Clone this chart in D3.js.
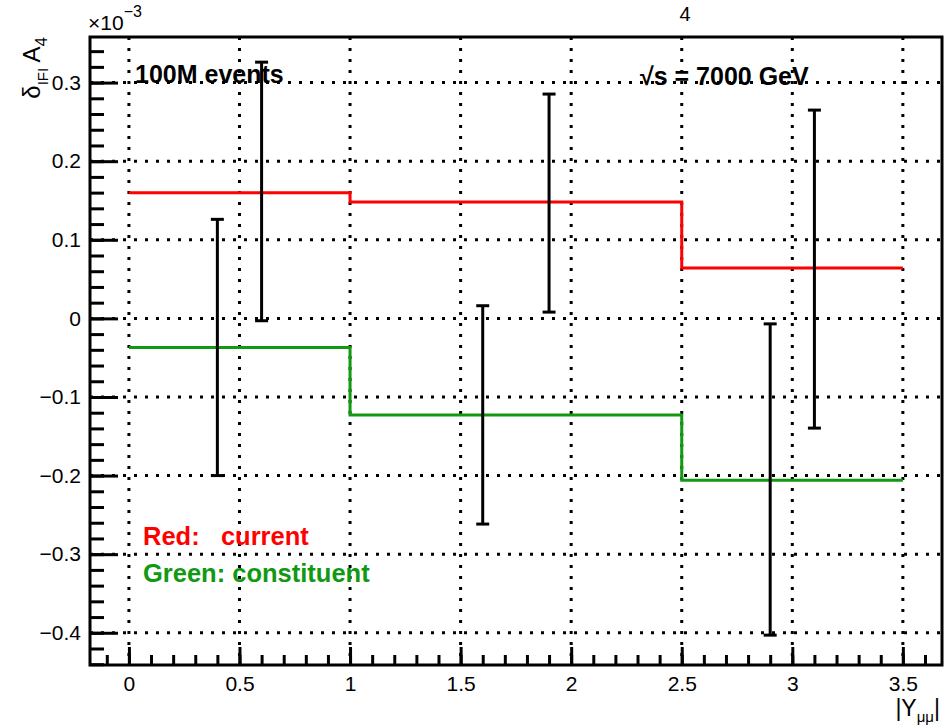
<!DOCTYPE html>
<html>
<head>
<meta charset="utf-8">
<script src="https://cdn.jsdelivr.net/npm/d3@7"></script>
<style>
  body { margin: 0; background: #fff; }
  svg { display: block; font-family: "Liberation Sans", Arial, Helvetica, sans-serif; }
</style>
</head>
<body>
<div id="chart"></div>
<script>
// histogram bins (|Y_mumu|) and the two step curves, in units of 1e-3
const binEdges = [0, 1, 2.5, 3.5];
const redValues = [0.160, 0.148, 0.064];
const greenValues = [-0.037, -0.123, -0.206];

// error bars: position, centre, half length
const errX = [0.4, 0.6, 1.6, 1.9, 2.9, 3.1];
const errY = [-0.037, 0.1615, -0.1228, 0.1467, -0.205, 0.0627];
const errHalf = [0.163, 0.1645, 0.1389, 0.1387, 0.198, 0.2023];

const xTicks = [0, 0.5, 1, 1.5, 2, 2.5, 3, 3.5];
const yTicks = [-0.4, -0.3, -0.2, -0.1, 0, 0.1, 0.2, 0.3];

const width = 950, height = 727;
const frame = { left: 90, right: 942, top: 37, bottom: 665 };

const x = d3.scaleLinear().domain([-0.176, 3.677]).range([frame.left, frame.right]);
const y = d3.scaleLinear().domain([-0.441, 0.358]).range([frame.bottom, frame.top]);

const svg = d3.select("#chart").append("svg")
  .attr("width", width)
  .attr("height", height);

// dotted grid
const grid = svg.append("g")
  .attr("stroke", "#000")
  .attr("stroke-width", 3)
  .attr("stroke-dasharray", "3,8");

grid.selectAll(".gx").data(xTicks).join("line")
  .attr("x1", d => x(d)).attr("x2", d => x(d))
  .attr("y1", frame.top).attr("y2", frame.bottom);

grid.selectAll(".gy").data(yTicks).join("line")
  .attr("x1", frame.left).attr("x2", frame.right)
  .attr("y1", d => y(d)).attr("y2", d => y(d));

// step histograms
function steps(values) {
  const pts = [];
  values.forEach((v, i) => {
    pts.push([binEdges[i], v]);
    pts.push([binEdges[i + 1], v]);
  });
  return pts;
}
const line = d3.line().x(d => x(d[0])).y(d => y(d[1]));

svg.append("path")
  .attr("d", line(steps(redValues)))
  .attr("fill", "none")
  .attr("stroke", "#ff0000")
  .attr("stroke-width", 3);

svg.append("path")
  .attr("d", line(steps(greenValues)))
  .attr("fill", "none")
  .attr("stroke", "#119911")
  .attr("stroke-width", 3);

// texts in the plot
svg.append("text")
  .attr("x", 135).attr("y", 83)
  .attr("font-size", 25).attr("font-weight", "bold")
  .text("100M events");

svg.append("text")
  .attr("x", 640).attr("y", 85)
  .attr("font-size", 25).attr("font-weight", "bold")
  .text("\u221As = 7000 GeV");

svg.append("text")
  .attr("x", 143).attr("y", 545)
  .attr("font-size", 25.5).attr("font-weight", "bold")
  .attr("fill", "#ff0000")
  .style("white-space", "pre")
  .text("Red:   current");

svg.append("text")
  .attr("x", 143).attr("y", 582)
  .attr("font-size", 25.5).attr("font-weight", "bold")
  .attr("fill", "#119911")
  .text("Green: constituent");

// error bars
const errData = errX.map((d, i) => ({ x: d, y: errY[i], h: errHalf[i] }));
const eb = svg.append("g").attr("stroke", "#000").attr("stroke-width", 3);
eb.selectAll(".v").data(errData).join("line")
  .attr("x1", d => x(d.x)).attr("x2", d => x(d.x))
  .attr("y1", d => y(d.y + d.h)).attr("y2", d => y(d.y - d.h));
eb.selectAll(".t").data(errData).join("line")
  .attr("x1", d => x(d.x) - 6.5).attr("x2", d => x(d.x) + 6.5)
  .attr("y1", d => y(d.y + d.h)).attr("y2", d => y(d.y + d.h));
eb.selectAll(".b").data(errData).join("line")
  .attr("x1", d => x(d.x) - 6.5).attr("x2", d => x(d.x) + 6.5)
  .attr("y1", d => y(d.y - d.h)).attr("y2", d => y(d.y - d.h));

// axes (ticks pointing inward, ROOT style)
const yMinor = d3.range(-22, 18).map(i => i * 0.02);
const xMinor = d3.range(-1, 37).map(i => i * 0.1);

function styleAxis(g) {
  g.select(".domain").remove();
  g.selectAll(".tick line").attr("stroke", "#000").attr("stroke-width", 3);
  g.selectAll(".tick text").attr("font-size", 21).attr("fill", "#000")
    .attr("font-family", "Liberation Sans, Arial, sans-serif");
}

svg.append("g")
  .attr("transform", `translate(${frame.left},0)`)
  .call(d3.axisLeft(y).tickValues(yMinor).tickSize(-14).tickFormat(""))
  .call(styleAxis);

svg.append("g")
  .attr("transform", `translate(${frame.left},0)`)
  .call(d3.axisLeft(y).tickValues(yTicks).tickSize(-28).tickPadding(9)
    .tickFormat(d => d === 0 ? "0" : d3.format(".1f")(d)))
  .call(styleAxis);

svg.append("g")
  .attr("transform", `translate(0,${frame.bottom})`)
  .call(d3.axisBottom(x).tickValues(xMinor).tickSize(-10).tickFormat(""))
  .call(styleAxis);

svg.append("g")
  .attr("transform", `translate(0,${frame.bottom})`)
  .call(d3.axisBottom(x).tickValues(xTicks).tickSize(-18).tickPadding(11)
    .tickFormat(d => String(d)))
  .call(styleAxis);

// frame
svg.append("rect")
  .attr("x", frame.left).attr("y", frame.top)
  .attr("width", frame.right - frame.left)
  .attr("height", frame.bottom - frame.top)
  .attr("fill", "none")
  .attr("stroke", "#000")
  .attr("stroke-width", 3);

// exponent label
const expo = svg.append("text").attr("x", 88).attr("y", 30).attr("font-size", 21);
expo.append("tspan").text("\u00D710");
expo.append("tspan").attr("dy", -13).attr("font-size", 16).text("\u22123");

// y title
const yt = svg.append("text")
  .attr("transform", `translate(40,${frame.top}) rotate(-90)`)
  .attr("text-anchor", "end")
  .attr("font-size", 24);
yt.append("tspan").text("\u03B4");
yt.append("tspan").attr("dy", 8).attr("font-size", 15).text("IFI");
yt.append("tspan").attr("dy", -8).text(" A");
yt.append("tspan").attr("dy", 7).attr("font-size", 17).text("4");

// x title
const xt = svg.append("text")
  .attr("x", 940).attr("y", 716)
  .attr("text-anchor", "end")
  .attr("font-size", 23);
xt.append("tspan").text("|Y");
xt.append("tspan").attr("dy", 6).attr("font-size", 15).text("\u03BC\u03BC");
xt.append("tspan").attr("dy", -6).text("|");

// title fragment at the very top
svg.append("text")
  .attr("x", 685).attr("y", 21)
  .attr("text-anchor", "middle")
  .attr("font-size", 20)
  .text("4");
</script>
</body>
</html>
